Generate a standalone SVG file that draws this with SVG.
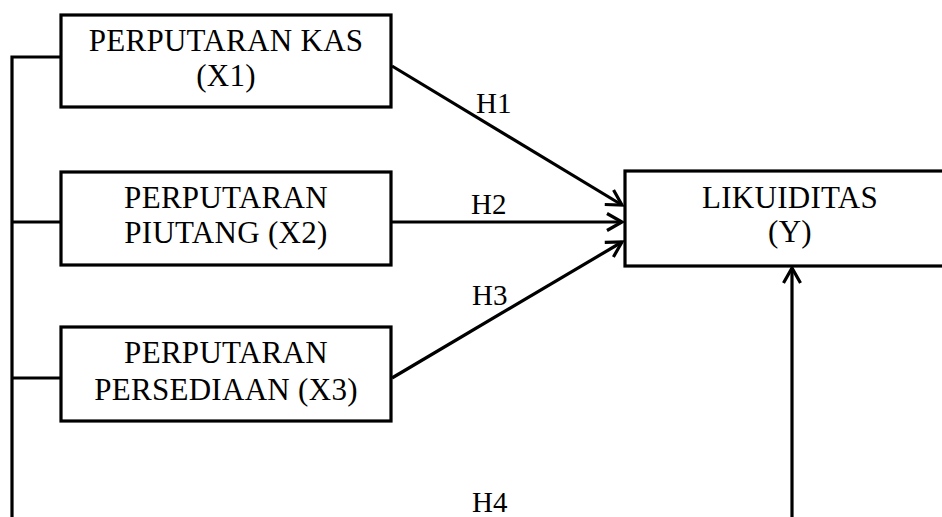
<svg xmlns="http://www.w3.org/2000/svg" width="942" height="517" viewBox="0 0 942 517">
<style>
.box{fill:#fff;stroke:#000;stroke-width:3.2}
.t{font-family:"Liberation Serif","Times New Roman",serif;font-size:31px;letter-spacing:0.3px;fill:#000;text-anchor:middle}
.h{font-family:"Liberation Serif","Times New Roman",serif;font-size:29px;fill:#000}
.c{fill:none;stroke:#000;stroke-width:3.2}
</style>
<defs>
<marker id="ah" markerUnits="userSpaceOnUse" markerWidth="30" markerHeight="30" refX="0" refY="0" orient="auto" overflow="visible">
<path d="M-15,-8.5 L0,0 L-15,8.5" fill="none" stroke="#000" stroke-width="3.2"/>
</marker>
</defs>
<rect width="942" height="517" fill="#fff"/>
<g id="connectors">
<path class="c" d="M12,517 V57 H61 M12,222 H61 M12,378 H61"/>
<line class="c" x1="392" y1="66" x2="622" y2="205" marker-end="url(#ah)"/>
<line class="c" x1="392" y1="222" x2="622" y2="222" marker-end="url(#ah)"/>
<line class="c" x1="392" y1="378" x2="622" y2="242" marker-end="url(#ah)"/>
<line class="c" x1="792" y1="517" x2="792" y2="268" marker-end="url(#ah)"/>
<text class="h" x="476" y="113">H1</text>
<text class="h" x="471" y="214">H2</text>
<text class="h" x="472" y="305">H3</text>
<text class="h" x="472" y="512">H4</text>
</g>
<g id="x1">
<rect class="box" x="61" y="15" width="330" height="92"/>
<text class="t" x="226" y="51">PERPUTARAN KAS</text>
<text class="t" x="226" y="86">(X1)</text>
</g>
<g id="x2">
<rect class="box" x="61" y="172" width="330" height="93"/>
<text class="t" x="226" y="208">PERPUTARAN</text>
<text class="t" x="226" y="243">PIUTANG (X2)</text>
</g>
<g id="x3">
<rect class="box" x="61" y="327" width="330" height="94"/>
<text class="t" x="226" y="363">PERPUTARAN</text>
<text class="t" x="226" y="400">PERSEDIAAN (X3)</text>
</g>
<g id="y">
<rect class="box" x="625" y="171" width="340" height="95"/>
<text class="t" x="790" y="208">LIKUIDITAS</text>
<text class="t" x="790" y="242">(Y)</text>
</g>
</svg>
